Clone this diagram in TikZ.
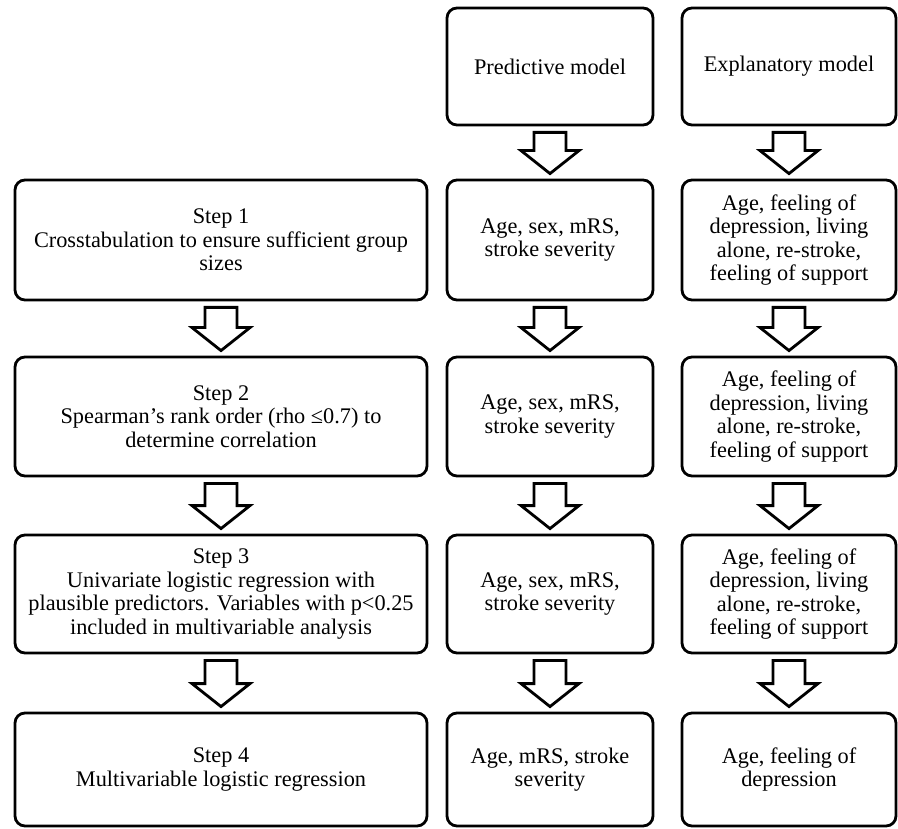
\documentclass[tikz,border=0pt]{standalone}
\usepackage{fontspec}
\setmainfont{Liberation Serif}
\usetikzlibrary{calc}
\tikzset{
	box/.style={draw, line width=1.6pt, rounded corners=0.2cm, align=center, inner sep=2pt, font=\fontsize{12.7}{13.4}\selectfont},
	stepbox/.style={box, minimum width=8.24cm},
	predbox/.style={box, minimum width=4.12cm},
	explbox/.style={box, minimum width=4.28cm}
}
\tikzset{
	hollow/.style={draw, line width=1.6pt, fill=white, line join=miter,
		to path={let \p1=(\tikztostart), \p2=(\tikztotarget) in
			(\x1-0.32cm,\y1-0.12cm) -- (\x1+0.32cm,\y1-0.12cm) -- (\x1+0.32cm,\y2+0.56cm)
			-- (\x1+0.58cm,\y2+0.56cm) -- (\x1,\y2+0.1cm) -- (\x1-0.58cm,\y2+0.56cm)
			-- (\x1-0.32cm,\y2+0.56cm) -- cycle}}
}

\begin{document}
\begin{tikzpicture}
\useasboundingbox (0,0) rectangle (17.96,-16.58);

\node[predbox, minimum height=2.34cm] (hdrP) at (11.00,-1.33) {Predictive model};
\node[explbox, minimum height=2.34cm] (hdrE) at (15.78,-1.33) {Explanatory model};

% steps
\node[stepbox, minimum height=2.40cm] (s1) at (4.42,-4.80) {Step 1\\Crosstabulation to ensure sufficient group\\sizes};
\node[stepbox, minimum height=2.38cm] (s2) at (4.42,-8.33) {Step 2\\Spearman’s rank order (rho ≤0.7) to\\determine correlation};
\node[stepbox, minimum height=2.36cm] (s3) at (4.42,-11.88) {Step 3\\Univariate logistic regression with\\plausible predictors. Variables with p<0.25\\included in multivariable analysis};
\node[stepbox, minimum height=2.26cm] (s4) at (4.42,-15.39) {Step 4\\Multivariable logistic regression};

% predictive model
\node[predbox, minimum height=2.40cm] (p1) at (11.00,-4.80) {Age, sex, mRS,\\stroke severity};
\node[predbox, minimum height=2.38cm] (p2) at (11.00,-8.33) {Age, sex, mRS,\\stroke severity};
\node[predbox, minimum height=2.36cm] (p3) at (11.00,-11.88) {Age, sex, mRS,\\stroke severity};
\node[predbox, minimum height=2.26cm] (p4) at (11.00,-15.39) {Age, mRS, stroke\\severity};

% explanatory model
\node[explbox, minimum height=2.40cm] (e1) at (15.78,-4.80) {Age, feeling of\\depression, living\\alone, re-stroke,\\feeling of support};
\node[explbox, minimum height=2.38cm] (e2) at (15.78,-8.33) {Age, feeling of\\depression, living\\alone, re-stroke,\\feeling of support};
\node[explbox, minimum height=2.36cm] (e3) at (15.78,-11.88) {Age, feeling of\\depression, living\\alone, re-stroke,\\feeling of support};
\node[explbox, minimum height=2.26cm] (e4) at (15.78,-15.39) {Age, feeling of\\depression};

\draw[hollow] (s1.south) to (s2.north);
\draw[hollow] (s2.south) to (s3.north);
\draw[hollow] (s3.south) to (s4.north);

\draw[hollow] (hdrP.south) to (p1.north);
\draw[hollow] (p1.south) to (p2.north);
\draw[hollow] (p2.south) to (p3.north);
\draw[hollow] (p3.south) to (p4.north);

\draw[hollow] (hdrE.south) to (e1.north);
\draw[hollow] (e1.south) to (e2.north);
\draw[hollow] (e2.south) to (e3.north);
\draw[hollow] (e3.south) to (e4.north);
\end{tikzpicture}
\end{document}
